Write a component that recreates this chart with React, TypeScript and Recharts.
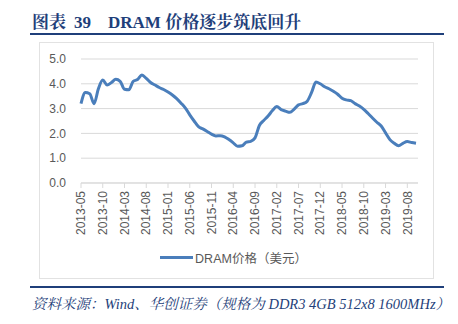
import React from "react";
import { LineChart, Line, XAxis, YAxis, CartesianGrid, Legend } from "recharts";

// monthly labels 2013-05 .. 2019-10
const startYear = 2013;
const startMonth = 5;
const monthCount = 78;
const months: string[] = [];
for (let i = 0; i < monthCount; i++) {
  const m = startMonth - 1 + i;
  const y = startYear + Math.floor(m / 12);
  const mm = (m % 12) + 1;
  months.push(`${y}-${mm < 10 ? "0" + mm : mm}`);
}

// DRAM price, USD (DDR3 4GB 512x8 1600MHz)
const dramPrice = [
  3.2, 3.65, 3.6, 3.2, 3.8, 4.15, 3.95, 4.05, 4.18, 4.1,
  3.78, 3.76, 4.1, 4.17, 4.35, 4.22, 4.05, 3.95, 3.85, 3.77,
  3.67, 3.55, 3.4, 3.22, 3.02, 2.75, 2.5, 2.27, 2.18, 2.08,
  1.97, 1.9, 1.91, 1.86, 1.75, 1.62, 1.48, 1.5, 1.65, 1.68,
  1.82, 2.32, 2.52, 2.7, 2.92, 3.08, 2.96, 2.9, 2.85, 2.98,
  3.15, 3.2, 3.3, 3.65, 4.07, 4.0, 3.88, 3.8, 3.7, 3.58,
  3.42, 3.35, 3.32, 3.2, 3.1, 2.97, 2.8, 2.62, 2.45, 2.3,
  2.02, 1.75, 1.6, 1.5, 1.6, 1.67, 1.63, 1.6,
];

const yTicks = [0, 1, 2, 3, 4, 5];
const seriesName = "DRAM价格（美元）";

const data = months.map((m, i) => ({ month: m, price: dramPrice[i] }));

const navy = "#1f3f7a";
const lineColor = "#4a7ebb";
const axisText = "#595959";
const gridColor = "#d9d9d9";
const sansFont = '"Liberation Sans", "Noto Sans CJK SC", sans-serif';
const serifFont = '"Liberation Serif", "Noto Serif CJK SC", "Noto Sans CJK SC", serif';

const MonthTick = (props: any) => {
  const { x, y, payload } = props;
  return (
    <g transform={`translate(${x},${y})`}>
      <text
        transform="rotate(-90)"
        textAnchor="end"
        dy="0.35em"
        fill={axisText}
        fontSize={12}
        fontFamily={sansFont}
      >
        {payload.value}
      </text>
    </g>
  );
};

const LegendContent = () => (
  <div
    style={{
      display: "flex",
      alignItems: "center",
      justifyContent: "center",
      height: 20,
      paddingLeft: 10,
    }}
  >
    <div style={{ width: 33, height: 3, background: lineColor, marginRight: 2 }} />
    <span style={{ fontSize: 12.5, color: axisText, fontFamily: sansFont }}>{seriesName}</span>
  </div>
);

export default function App() {
  return (
    <div
      style={{
        position: "absolute",
        left: 0,
        top: 0,
        width: 458,
        height: 324,
        background: "#fff",
        overflow: "hidden",
      }}
    >
      <div
        style={{
          position: "absolute",
          left: 32,
          top: 8,
          fontSize: 17,
          fontWeight: "bold",
          color: navy,
          fontFamily: serifFont,
          whiteSpace: "pre",
        }}
      >
        <span style={{ marginRight: 8 }}>图表</span>
        <span style={{ marginRight: 17 }}>39</span>
        <span>DRAM 价格逐步筑底回升</span>
      </div>
      <div style={{ position: "absolute", left: 30, top: 33, width: 414, height: 2, background: navy }} />

      <div
        style={{
          position: "absolute",
          left: 39,
          top: 42,
          width: 395,
          height: 237,
          boxSizing: "border-box",
          border: "1px solid #e2e2e2",
        }}
      />
      <div style={{ position: "absolute", left: 39, top: 42 }}>
        <LineChart
          width={395}
          height={237}
          data={data}
          margin={{ top: 17, right: 16, left: 0, bottom: 12 }}
        >
          <CartesianGrid vertical={false} stroke={gridColor} strokeWidth={1} />
          <XAxis
            dataKey="month"
            interval={4}
            height={64}
            tick={<MonthTick />}
            tickSize={5}
            tickMargin={3}
            stroke={gridColor}
            padding={{ left: 0, right: 2 }}
          />
          <YAxis
            domain={[0, 5]}
            ticks={yTicks}
            width={42}
            axisLine={false}
            tickLine={false}
            tickMargin={9}
            tickFormatter={(v: number) => v.toFixed(1)}
            tick={{ fill: axisText, fontSize: 12, fontFamily: sansFont }}
          />
          <Legend verticalAlign="bottom" height={20} content={<LegendContent />} />
          <Line
            type="monotone"
            dataKey="price"
            name={seriesName}
            stroke={lineColor}
            strokeWidth={3}
            dot={false}
            isAnimationActive={false}
          />
        </LineChart>
      </div>

      <div style={{ position: "absolute", left: 30, top: 286, width: 414, height: 2, background: navy }} />
      <div
        style={{
          position: "absolute",
          left: 32,
          top: 292,
          fontSize: 14.5,
          fontStyle: "italic",
          color: navy,
          fontFamily: serifFont,
          whiteSpace: "pre",
        }}
      >
        资料来源：Wind、华创证券（规格为 DDR3 4GB 512x8 1600MHz）
      </div>
    </div>
  );
}
